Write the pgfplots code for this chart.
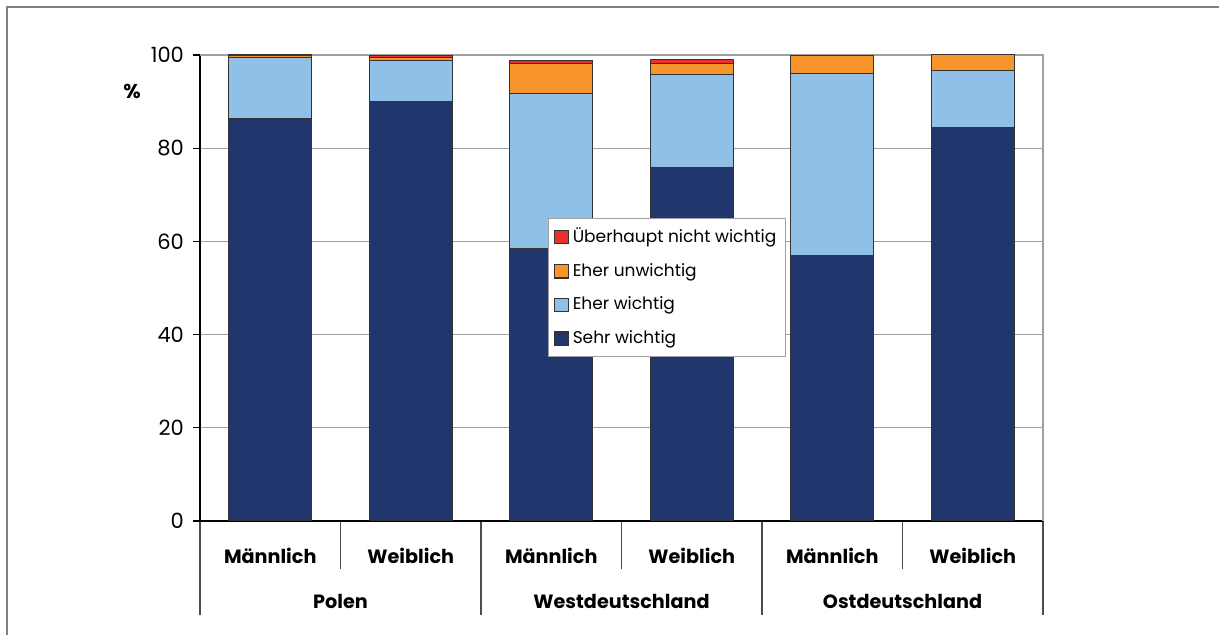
\documentclass[border=0pt]{standalone}
\usepackage{pgfplots}
\pgfplotsset{compat=1.18}
\usepackage{fontspec}
\setmainfont{Poppins}
\definecolor{cdark}{HTML}{20366C}
\definecolor{clight}{HTML}{90BFE7}
\definecolor{corange}{HTML}{F7952C}
\definecolor{cred}{HTML}{E8312A}
\definecolor{cgrid}{HTML}{A0A0A0}
\definecolor{cedge}{HTML}{333333}
\begin{document}
\begin{tikzpicture}[font=\fontsize{10}{12}\selectfont]
\path[use as bounding box] (-100pt,-57pt) rectangle (509.5pt,260.5pt);
\draw[cgrid!80!black, line width=0.6pt] (-96.5pt,-60pt) -- (-96.5pt,257pt) -- (520pt,257pt);
\begin{axis}[
  at={(0,0)}, anchor=south west,
  scale only axis, width=421.5pt, height=233pt,
  ymin=0, ymax=100, xmin=-0.5, xmax=5.5,
  ybar stacked, bar width=0.59,
  ytick={0,20,40,60,80,100},
  xtick={0,1,2,3,4,5},
  xticklabels={Männlich,Weiblich,Männlich,Weiblich,Männlich,Weiblich},
  xticklabel style={font=\fontsize{9.6}{12}\selectfont\bfseries, anchor=center, yshift=-14pt},
  x tick style={draw=none},
  ytick pos=left,
  y tick style={draw=black, line width=0.6pt},
  tick align=outside, major tick length=3.5pt,
  ymajorgrids, grid style={cgrid, line width=0.6pt},
  axis line style={draw=none},
  /pgf/number format/assume math mode=true,
  yticklabel style={font=\fontsize{10.5}{12}\selectfont, xshift=-1pt},
  legend style={at={(0.413,0.650)}, anchor=north west, draw=cgrid, fill=white,
    font=\fontsize{8.5}{10}\selectfont, row sep=4.8pt, inner xsep=2.5pt, inner ysep=2.8pt},
  legend cell align=left,
  reverse legend,
  legend image code/.code={\draw[#1, line width=0.6pt] (0pt,-3.3pt) rectangle (7pt,3.3pt);},
  clip=false,
]
\addplot[fill=cdark, draw=cedge, line width=0.5pt] coordinates {(0,86.4) (1,90.1) (2,58.4) (3,75.8) (4,56.9) (5,84.5)};
\addplot[fill=clight, draw=cedge, line width=0.5pt] coordinates {(0,13.0) (1,8.8) (2,33.3) (3,20.0) (4,39.1) (5,12.2)};
\addplot[fill=corange, draw=cedge, line width=0.5pt] coordinates {(0,0.5) (1,0.5) (2,6.4) (3,2.3) (4,3.9) (5,3.3)};
\addplot[fill=cred, draw=cedge, line width=0.5pt] coordinates {(0,0.1) (1,0.4) (2,0.7) (3,1.0) (4,0.0) (5,0.0)};
\legend{Sehr wichtig, Eher wichtig, Eher unwichtig, Überhaupt nicht wichtig}
% axis frame
\draw[cgrid, line width=0.6pt] (rel axis cs:0,1) -- (rel axis cs:1,1) -- (rel axis cs:1,0);
\draw[black, line width=0.6pt] (rel axis cs:0,1) -- (rel axis cs:0,0) -- (rel axis cs:1,0);
% category separators
\pgfplotsinvokeforeach{0.5,2.5,4.5}{\draw[black!70, line width=0.6pt] (axis cs:#1,0) -- ([yshift=-24pt]axis cs:#1,0);}
\pgfplotsinvokeforeach{-0.5,1.5,3.5,5.5}{\draw[black!70, line width=0.6pt] (axis cs:#1,0) -- ([yshift=-47pt]axis cs:#1,0);}
\node[font=\fontsize{9.6}{12}\selectfont\bfseries] at ([yshift=-40pt]axis cs:0.5,0) {Polen};
\node[font=\fontsize{9.6}{12}\selectfont\bfseries] at ([yshift=-40pt]axis cs:2.5,0) {Westdeutschland};
\node[font=\fontsize{9.6}{12}\selectfont\bfseries] at ([yshift=-40pt]axis cs:4.5,0) {Ostdeutschland};
\node[font=\fontsize{10}{12}\selectfont\bfseries] at ([xshift=-34pt]rel axis cs:0,0.921) {\%};
\end{axis}
\end{tikzpicture}
\end{document}
